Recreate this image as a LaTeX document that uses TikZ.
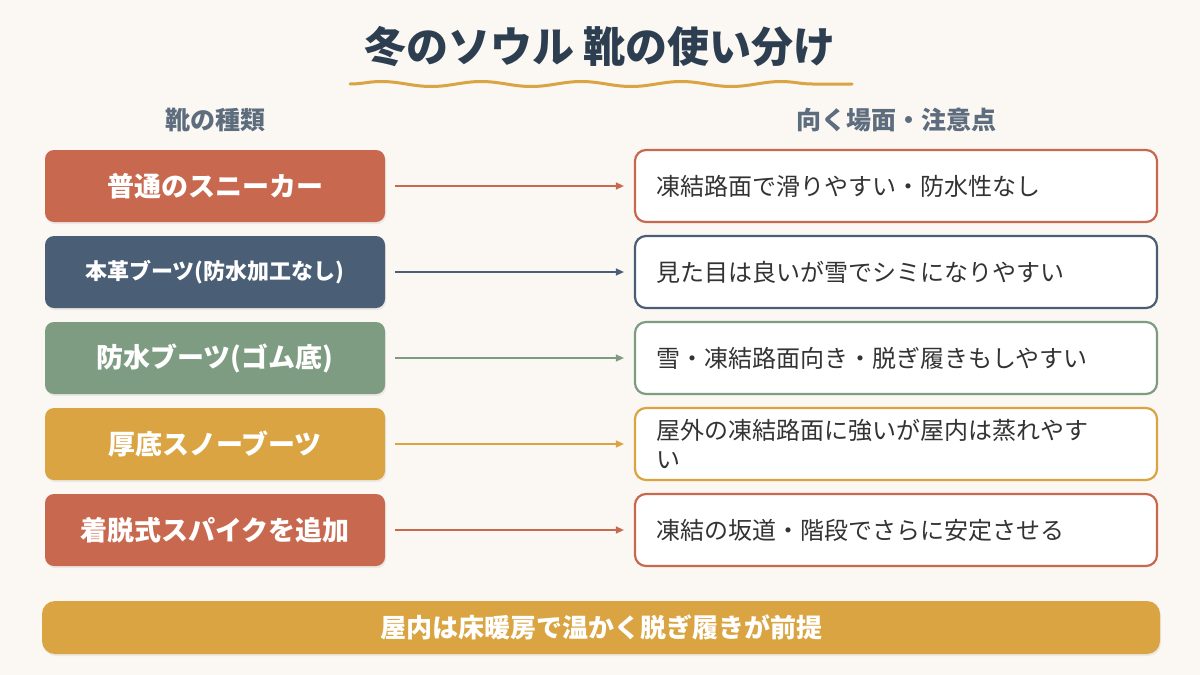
\documentclass[tikz,border=0pt]{standalone}
\usepackage{fontspec}
\setmainfont{Noto Sans CJK JP}
\usetikzlibrary{arrows.meta,decorations.pathmorphing,shadows}
\definecolor{bgcream}{HTML}{FBF7F2}
\definecolor{titlenavy}{HTML}{2C3E50}
\definecolor{headgray}{HTML}{5D6D7E}
\definecolor{bootred}{HTML}{C8694F}
\definecolor{bootnavy}{HTML}{4A5E75}
\definecolor{bootgreen}{HTML}{7E9C82}
\definecolor{bootgold}{HTML}{D9A441}
\definecolor{notegray}{HTML}{333333}
\tikzset{
  bootbox/.style={rectangle,rounded corners=9pt,minimum width=340pt,minimum height=72pt,
    fill=#1,text=white,
    drop shadow={opacity=.12,shadow xshift=1pt,shadow yshift=-2pt}},
  notebox/.style={rectangle,rounded corners=11pt,minimum width=522pt,minimum height=72pt,
    draw=#1,line width=2.2pt,fill=white,text=notegray,inner xsep=21pt,text width=480pt,
    align=left,font=\fontsize{24}{29}\selectfont},
  linkarrow/.style={draw=#1,line width=1.4pt,-{Triangle[length=8pt,width=7pt]},
    shorten <=10pt,shorten >=10pt},
  colhead/.style={text=headgray,font=\fontsize{25}{30}\selectfont\bfseries}
}
\begin{document}
\begin{tikzpicture}[x=1pt,y=-1pt]
\fill[bgcream] (0,0) rectangle (1200,675);
\useasboundingbox (0,0) rectangle (1200,675);
% title
\node[text=titlenavy,font=\fontsize{42}{50}\selectfont\bfseries] (title) at (600,47) {冬のソウル 靴の使い分け};
\coordinate (wavea) at (350,84); \coordinate (waveb) at (852,84);
\draw[bootgold,line width=3pt,line cap=round,decorate,decoration={snake,segment length=100pt,amplitude=2.5pt}] (wavea)--(waveb);
\node[colhead] (headl) at (215,120) {靴の種類};
\node[colhead] (headr) at (896,120) {向く場面・注意点};
% rows
\foreach \i/\c/\boot/\note/\sz in {
  1/bootred/{普通のスニーカー}/{凍結路面で滑りやすい・防水性なし}/27,
  2/bootnavy/{本革ブーツ(防水加工なし)}/{見た目は良いが雪でシミになりやすい}/22,
  3/bootgreen/{防水ブーツ(ゴム底)}/{雪・凍結路面向き・脱ぎ履きもしやすい}/27,
  4/bootgold/{厚底スノーブーツ}/{屋外の凍結路面に強いが屋内は蒸れやす\\い}/27,
  5/bootred/{着脱式スパイクを追加}/{凍結の坂道・階段でさらに安定させる}/27}{
  \node[bootbox=\c,font=\fontsize{\sz}{\sz}\selectfont\bfseries] (boot\i) at (215,100+86*\i) {\boot};
  \node[notebox=\c] (note\i) at (896,100+86*\i) {\note};
  \draw[linkarrow=\c] (boot\i.east)--(note\i.west);
}
% footer
\node[rectangle,rounded corners=13pt,minimum width=1118pt,minimum height=53pt,fill=bootgold,
  text=white,font=\fontsize{26}{30}\selectfont\bfseries,
  drop shadow={opacity=.12,shadow xshift=1pt,shadow yshift=-2pt}] (footer) at (601,627.5) {屋内は床暖房で温かく脱ぎ履きが前提};
\end{tikzpicture}
\end{document}
